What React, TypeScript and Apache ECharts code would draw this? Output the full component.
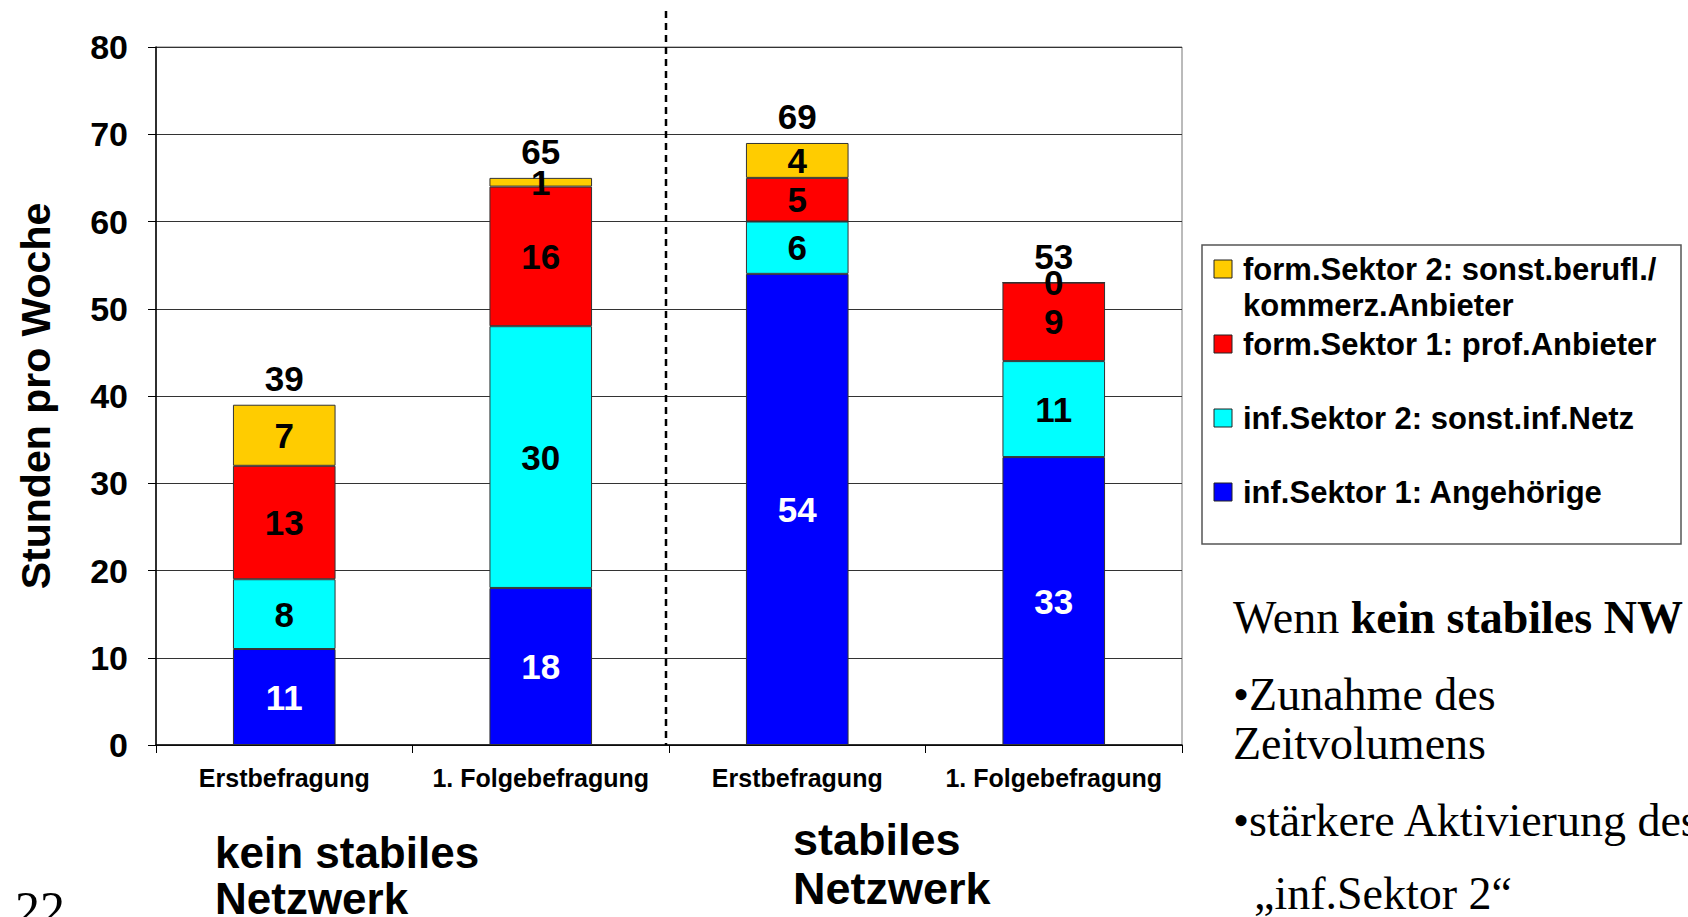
import React, { useEffect, useRef } from 'react';
import * as echarts from 'echarts';

const categories = ['Erstbefragung', '1. Folgebefragung', 'Erstbefragung', '1. Folgebefragung'];
const seriesNames = [
  'inf.Sektor 1: Angehörige',
  'inf.Sektor 2: sonst.inf.Netz',
  'form.Sektor 1: prof.Anbieter',
  'form.Sektor 2: sonst.berufl./ kommerz.Anbieter',
];
const angehoerige = [11, 18, 54, 33];
const sonstInfNetz = [8, 30, 6, 11];
const profAnbieter = [13, 16, 5, 9];
const sonstBerufl = [7, 1, 4, 0];
const seriesColors = ['#0000FF', '#00FFFF', '#FF0000', '#FFCC00'];
const labelColors = ['#FFFFFF', '#000000', '#000000', '#000000'];
const legendTexts = [
  'form.Sektor 2: sonst.berufl./\nkommerz.Anbieter',
  'form.Sektor 1: prof.Anbieter',
  'inf.Sektor 2: sonst.inf.Netz',
  'inf.Sektor 1: Angehörige',
];
const legendColorIndex = [3, 2, 1, 0];
const yAxisTitle = 'Stunden pro Woche';
const groupLabels = ['kein stabiles\nNetzwerk', 'stabiles\nNetzwerk'];

const SANS = '"Liberation Sans", Arial, sans-serif';
const SERIF = '"Liberation Serif", "Times New Roman", serif';

export default function App() {
  const ref = useRef<HTMLDivElement>(null);
  useEffect(() => {
    if (!ref.current) return;
    const chart = echarts.init(ref.current, undefined, { renderer: 'svg' });
    const stacks = [angehoerige, sonstInfNetz, profAnbieter, sonstBerufl];
    const totals = categories.map((_, i) => stacks.reduce((s, arr) => s + arr[i], 0));

    const series: any[] = stacks.map((data, k) => ({
      name: seriesNames[k],
      type: 'bar',
      stack: 'total',
      barWidth: '40%',
      data,
      itemStyle: { color: seriesColors[k], borderColor: '#333', borderWidth: 1 },
      label: {
        show: true,
        position: 'inside',
        color: labelColors[k],
        fontSize: 35,
        fontWeight: 'bold',
        fontFamily: SANS,
      },
    }));
    series.push({
      name: 'Summe',
      type: 'scatter',
      data: totals,
      symbolSize: 0,
      z: 10,
      itemStyle: { opacity: 1, color: '#000' },
      label: {
        show: true,
        position: 'top',
        distance: 9,
        color: '#000',
        fontSize: 35,
        fontWeight: 'bold',
        fontFamily: SANS,
      },
    });

    const legendGraphics: any[] = [
      {
        type: 'rect',
        shape: { x: 1202, y: 245, width: 479, height: 299 },
        style: { fill: '#fff', stroke: '#555', lineWidth: 1.5 },
      },
    ];
    const legendY = [269, 344, 418, 492];
    legendTexts.forEach((t, i) => {
      legendGraphics.push({
        type: 'rect',
        shape: { x: 1214, y: legendY[i] - 9, width: 18, height: 18 },
        style: { fill: seriesColors[legendColorIndex[i]], stroke: '#222', lineWidth: 1 },
      });
      legendGraphics.push({
        type: 'text',
        x: 1243,
        y: legendY[i] - 18,
        style: {
          text: t,
          fill: '#000',
          font: `bold 31px ${SANS}`,
          lineHeight: 36,
          verticalAlign: 'top',
          align: 'left',
        },
      });
    });

    const option: any = {
      animation: false,
      backgroundColor: '#fff',
      grid: {
        left: 156,
        right: 506,
        top: 47,
        bottom: 172,
        show: true,
        borderColor: '#777',
        borderWidth: 1,
      },
      xAxis: {
        type: 'category',
        data: categories,
        axisLine: { lineStyle: { color: '#000', width: 1.5 } },
        axisTick: { show: true, length: 8, lineStyle: { color: '#000' } },
        axisLabel: {
          interval: 0,
          color: '#000',
          fontSize: 25,
          fontWeight: 'bold',
          fontFamily: SANS,
          margin: 20,
        },
      },
      yAxis: {
        type: 'value',
        min: 0,
        max: 80,
        interval: 10,
        name: yAxisTitle,
        nameLocation: 'middle',
        nameRotate: 90,
        nameGap: 100,
        nameTextStyle: { color: '#000', fontSize: 41, fontWeight: 'bold', fontFamily: SANS },
        axisLine: { show: true, lineStyle: { color: '#000', width: 1.5 } },
        axisTick: { show: true, length: 8, lineStyle: { color: '#000' } },
        axisLabel: {
          color: '#000',
          fontSize: 34,
          fontWeight: 'bold',
          fontFamily: SANS,
          margin: 28,
        },
        splitLine: { lineStyle: { color: '#333', width: 1 } },
      },
      series,
      graphic: [],
    };
    chart.setOption(option);

    const p1 = chart.convertToPixel({ xAxisIndex: 0 }, 1) as number;
    const p2 = chart.convertToPixel({ xAxisIndex: 0 }, 2) as number;
    const midX = (p1 + p2) / 2 - 3;
    const y0 = chart.convertToPixel({ yAxisIndex: 0 }, 0) as number;

    chart.setOption({
      graphic: [
        {
          type: 'line',
          shape: { x1: midX, y1: 11, x2: midX, y2: y0 },
          style: { stroke: '#000', lineWidth: 2.5, lineDash: [7, 5] },
          z: 100,
        },
        ...legendGraphics,
        {
          type: 'text',
          x: 215,
          y: 829,
          style: { text: groupLabels[0], fill: '#000', font: `bold 44px ${SANS}`, lineHeight: 46, verticalAlign: 'top' },
        },
        {
          type: 'text',
          x: 793,
          y: 815,
          style: { text: groupLabels[1], fill: '#000', font: `bold 45px ${SANS}`, lineHeight: 49, verticalAlign: 'top' },
        },
        {
          type: 'text',
          x: 15,
          y: 884,
          style: { text: '22', fill: '#000', font: `50px ${SERIF}`, verticalAlign: 'top' },
        },
        {
          type: 'text',
          x: 1233,
          y: 617,
          style: {
            text: '{n|Wenn }{b|kein stabiles NW}',
            verticalAlign: 'middle',
            rich: {
              n: { font: `46px ${SERIF}`, fill: '#000' },
              b: { font: `bold 46px ${SERIF}`, fill: '#000' },
            },
          },
        },
        {
          type: 'text',
          x: 1233,
          y: 694,
          style: { text: '•Zunahme des', fill: '#000', font: `46px ${SERIF}`, verticalAlign: 'middle' },
        },
        {
          type: 'text',
          x: 1233,
          y: 743,
          style: { text: 'Zeitvolumens', fill: '#000', font: `46px ${SERIF}`, verticalAlign: 'middle' },
        },
        {
          type: 'text',
          x: 1233,
          y: 820,
          style: { text: '•stärkere Aktivierung des', fill: '#000', font: `46px ${SERIF}`, verticalAlign: 'middle' },
        },
        {
          type: 'text',
          x: 1254,
          y: 893,
          style: { text: '„inf.Sektor 2“', fill: '#000', font: `46px ${SERIF}`, verticalAlign: 'middle' },
        },
      ],
    });

    return () => chart.dispose();
  }, []);

  return (
    <div
      ref={ref}
      style={{ position: 'fixed', left: 0, top: 0, width: 1688, height: 917, background: '#fff' }}
    />
  );
}
